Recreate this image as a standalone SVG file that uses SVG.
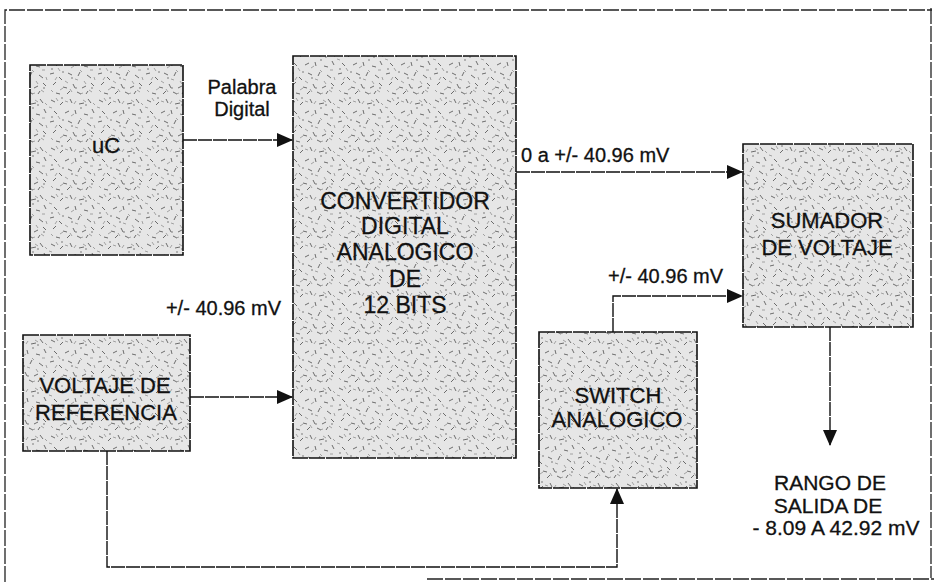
<svg xmlns="http://www.w3.org/2000/svg" width="934" height="582" viewBox="0 0 934 582">
<style>
  .box { fill: url(#speck); stroke: #111; stroke-width: 1.6; stroke-dasharray: 16 1; }
  .wire { fill: none; stroke: #111; stroke-width: 1.4; stroke-dasharray: 14 1; }
  .frame { fill: none; stroke: #222; stroke-width: 1.3; stroke-dasharray: 16 2; }
  .t { font-family: "Liberation Sans", Arial, sans-serif; fill: #111; stroke: #111; stroke-width: 0.3; text-anchor: middle; }
  .bx { font-size: 22px; }
  .lb { font-size: 20px; }
</style>
<defs>
  <pattern id="speck" patternUnits="userSpaceOnUse" width="48" height="48">
    <rect width="48" height="48" fill="#e6e6e6"/>
    <g stroke="#5e5e5e" stroke-width="0.9" fill="none">
      <path d="M3 4l4 2M12 9l3-3M22 3l2 4M31 8l5-1M40 3l3 4M6 15l3 3M17 17l4-2M27 14l1 4M36 18l4 1M44 13l2 4M2 26l4-1M11 29l3 3M20 25l4 2M30 28l2-4M39 27l4 3M5 37l3-3M15 39l4 1M25 36l2 4M34 40l4-2M43 35l3 3M8 45l4 1M19 46l3-3M29 44l4 2M38 46l2-3"/>
    </g>
    <g stroke="#9a9a9a" stroke-width="0.9" fill="none">
      <path d="M8 2l2 3M17 5l3 1M26 8l2-3M35 4l3 2M45 7l2 2M1 11l3 1M10 20l2 3M23 20l3-2M32 22l2 2M42 22l3 0M7 32l2-3M17 33l3 2M27 31l3 1M36 33l2 3M46 29l1 3M3 42l2 2M12 42l3-2M22 41l2 3M32 46l3-1M41 42l3 2"/>
    </g>
    <g fill="#555">
      <circle cx="14" cy="2" r="0.7"/><circle cx="33" cy="12" r="0.7"/><circle cx="4" cy="21" r="0.7"/><circle cx="24" cy="30" r="0.7"/><circle cx="44" cy="40" r="0.7"/><circle cx="15" cy="24" r="0.7"/><circle cx="38" cy="9" r="0.7"/><circle cx="28" cy="40" r="0.7"/>
    </g>
  </pattern>
  <marker id="arr" markerUnits="userSpaceOnUse" markerWidth="16" markerHeight="14" viewBox="0 0 16 14" refX="15" refY="7" orient="auto">
    <path d="M0 0L16 7L0 14z" fill="#111"/>
  </marker>
</defs>

<g id="frame">
  <path class="frame" d="M5 582V10H932"/>
  <path class="frame" d="M931 8V578"/>
  <path class="frame" d="M427 579H934"/>
</g>

<g id="connectors">
  <line class="wire" x1="183" y1="140" x2="292" y2="140" marker-end="url(#arr)"/>
  <line class="wire" x1="516" y1="172" x2="742" y2="172" marker-end="url(#arr)"/>
  <polyline class="wire" points="613,332 613,296 742,296" marker-end="url(#arr)"/>
  <line class="wire" x1="190" y1="397" x2="292" y2="397" marker-end="url(#arr)"/>
  <polyline class="wire" points="107,451 107,567 617,567 617,489" marker-end="url(#arr)"/>
  <line class="wire" x1="830" y1="327" x2="830" y2="445" marker-end="url(#arr)"/>
  <text class="t lb" x="242" y="94">Palabra</text>
  <text class="t lb" x="242" y="116">Digital</text>
  <text class="t lb" x="521" y="162" style="text-anchor:start">0 a +/- 40.96 mV</text>
  <text class="t lb" x="608" y="283" style="text-anchor:start">+/- 40.96 mV</text>
  <text class="t lb" x="281" y="315" style="text-anchor:end">+/- 40.96 mV</text>
</g>

<g id="uC">
  <rect class="box" x="30" y="65" width="153" height="190"/>
  <text class="t bx" x="106" y="153">uC</text>
</g>

<g id="convertidor">
  <rect class="box" x="293" y="56" width="223" height="402"/>
  <text class="t" font-size="23" x="405" y="209">CONVERTIDOR</text>
  <text class="t" font-size="23" x="405" y="234">DIGITAL</text>
  <text class="t" font-size="23" x="405" y="260">ANALOGICO</text>
  <text class="t" font-size="23" x="405" y="287">DE</text>
  <text class="t" font-size="23" x="405" y="313">12 BITS</text>
</g>

<g id="sumador">
  <rect class="box" x="743" y="144" width="170" height="183"/>
  <text class="t bx" x="827" y="228">SUMADOR</text>
  <text class="t bx" x="827" y="255">DE VOLTAJE</text>
</g>

<g id="voltaje-referencia">
  <rect class="box" x="23" y="335" width="167" height="116"/>
  <text class="t bx" x="105" y="393">VOLTAJE DE</text>
  <text class="t bx" x="106" y="420">REFERENCIA</text>
</g>

<g id="switch">
  <rect class="box" x="539" y="332" width="158" height="156"/>
  <text class="t bx" x="618" y="403">SWITCH</text>
  <text class="t bx" x="617" y="427">ANALOGICO</text>
</g>

<g id="salida">
  <text class="t" font-size="21" x="830" y="490">RANGO DE</text>
  <text class="t" font-size="21" x="828" y="513">SALIDA DE</text>
  <text class="t" font-size="21" x="836" y="535">- 8.09 A 42.92 mV</text>
</g>
</svg>
